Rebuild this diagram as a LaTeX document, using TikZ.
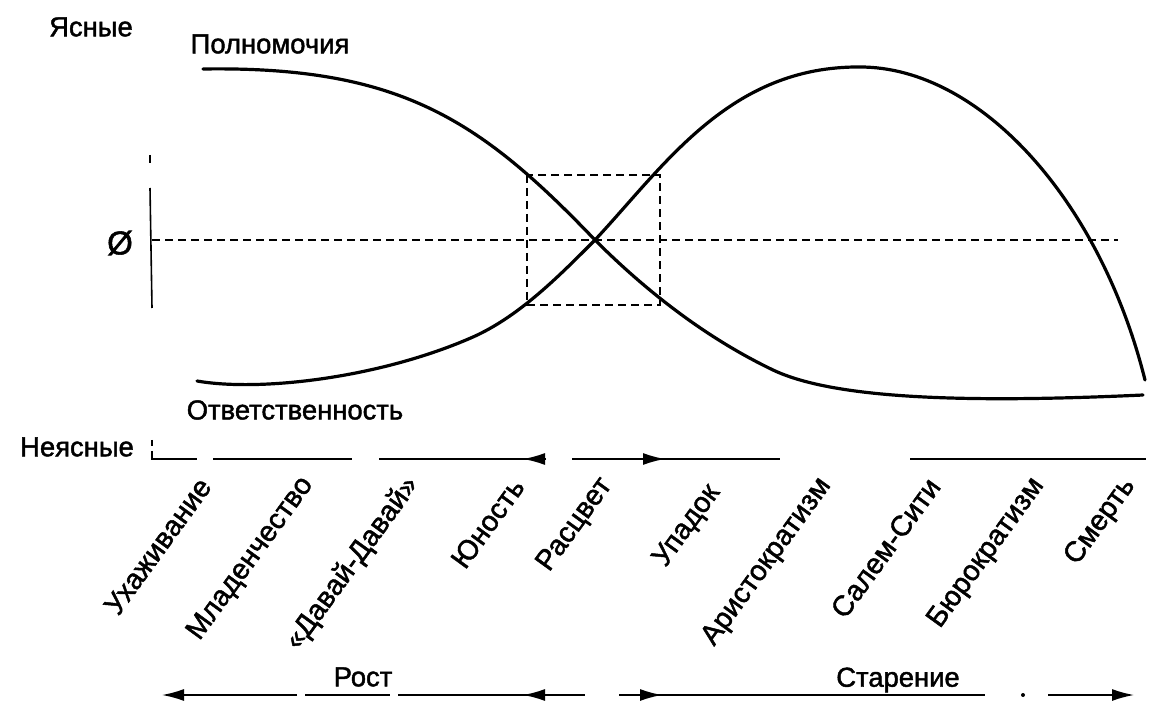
\documentclass[tikz,border=0pt]{standalone}
\usepackage{fontspec}
\setmainfont{Liberation Sans}[FakeBold=1.6]
\usetikzlibrary{arrows.meta}
\begin{document}
\begin{tikzpicture}[x=0.5pt,y=-0.5pt,
  lbl/.style={font=\fontsize{13.7}{16}\selectfont, inner sep=0pt},
  stage/.style={lbl, font=\fontsize{14.3}{16}\selectfont, anchor=east, rotate=54},
  curve/.style={line width=1.6pt, line join=round, line cap=round},
  guide/.style={line width=1pt, dash pattern=on 4pt off 2.5pt},
  axis/.style={line width=0.8pt},
  tip/.style={-{Latex[length=11pt,width=6pt]}, line width=0.8pt}]
\useasboundingbox[fill=white] (0,0) rectangle (1151,705);

% labels
\node[lbl] (clear) at (91,27) {Ясные};
\node[lbl] (auth) at (270,44) {Полномочия};
\node[lbl] (resp) at (295,410) {Ответственность};
\node[lbl] (unclear) at (77,447) {Неясные};
\node[lbl, font=\fontsize{16.5}{18}\selectfont] (zero) at (120,243) {Ø};

% vertical axis
\coordinate (vt1) at (150,155); \coordinate (vt2) at (150,163);
\coordinate (va1) at (150,188); \coordinate (va2) at (152,308);
\draw[axis] (vt1) -- (vt2);
\draw[axis] (va1) -- (va2);

% guides
\coordinate (g1) at (152,240); \coordinate (g2) at (1118,240);
\draw[guide] (g1) -- (g2);
\coordinate (r1) at (527,175); \coordinate (r2) at (660,305);
\draw[guide] (r1) rectangle (r2);

% curve: authority (decreasing)
\coordinate (x0) at (595,240);
\draw[curve] (203,69) .. controls (400,66) and (480,120) .. (x0)
  .. controls (640,285) and (700,335) .. (773,370)
  .. controls (830,397) and (950,404) .. (1143,395);
% curve: responsibility (increasing)
\draw[curve] (197,381) .. controls (260,392) and (380,378) .. (473,337)
  .. controls (520,316) and (560,275) .. (x0)
  .. controls (665,165) and (730,66) .. (860,67)
  .. controls (980,67) and (1100,200) .. (1145,380);

% bottom axis
\coordinate (t0) at (152,440); \coordinate (t1) at (152,446);
\draw[axis] (t0) -- (t1);
\coordinate (a0) at (152,451); \coordinate (a1) at (152,459); \coordinate (a2) at (197,459);
\draw[axis] (a0) -- (a1) -- (a2);
\coordinate (a3) at (213,459); \coordinate (a4) at (352,459);
\draw[axis] (a3) -- (a4);
\coordinate (a5) at (379,459); \coordinate (a6) at (546,459); \coordinate (a6t) at (523,459);
\draw[axis] (a5) -- (a6);
\draw[tip] (a6) -- (a6t);
\coordinate (a7) at (572,459); \coordinate (a8) at (780,459); \coordinate (a7b) at (642,459); \coordinate (a7t) at (665,459);
\draw[axis] (a7) -- (a8);
\draw[tip] (a7b) -- (a7t);
\coordinate (a9) at (910,459); \coordinate (a10) at (1146,459);
\draw[axis] (a9) -- (a10);

% stage labels
\node[stage] (s1) at (205,481) {Ухаживание};
\node[stage] (s2) at (308,480) {Младенчество};
\node[stage] (s3) at (413,480) {«Давай-Давай»};
\node[stage] (s4) at (518,481) {Юность};
\node[stage] (s5) at (607,481) {Расцвет};
\node[stage] (s6) at (715,488) {Упадок};
\node[stage] (s7) at (826,481) {Аристократизм};
\node[stage] (s8) at (934,481) {Салем-Сити};
\node[stage] (s9) at (1039,481) {Бюрократизм};
\node[stage] (s10) at (1130,481) {Смерть};

% growth / aging
\node[lbl] (grow) at (363,677) {Рост};
\node[lbl] (age) at (898,680) {Старение};
\coordinate (b1) at (297,695); \coordinate (b0) at (162,695);
\draw[tip] (b1) -- (b0);
\coordinate (b2) at (305,695); \coordinate (b3) at (390,695);
\draw[axis] (b2) -- (b3);
\coordinate (b4) at (398,695); \coordinate (b5) at (585,695);
\coordinate (b6) at (547,695); \coordinate (b6t) at (523,695);
\draw[axis] (b4) -- (b5);
\draw[tip] (b6) -- (b6t);
\coordinate (c0) at (619,695); \coordinate (c1) at (985,695);
\coordinate (c2) at (639,695); \coordinate (c2t) at (662,695);
\draw[axis] (c0) -- (c1);
\draw[tip] (c2) -- (c2t);
\coordinate (cd) at (1023,695);
\fill (cd) circle (2);
\coordinate (c3) at (1048,695); \coordinate (c4) at (1134,695);
\draw[tip] (c3) -- (c4);
\end{tikzpicture}
\end{document}
